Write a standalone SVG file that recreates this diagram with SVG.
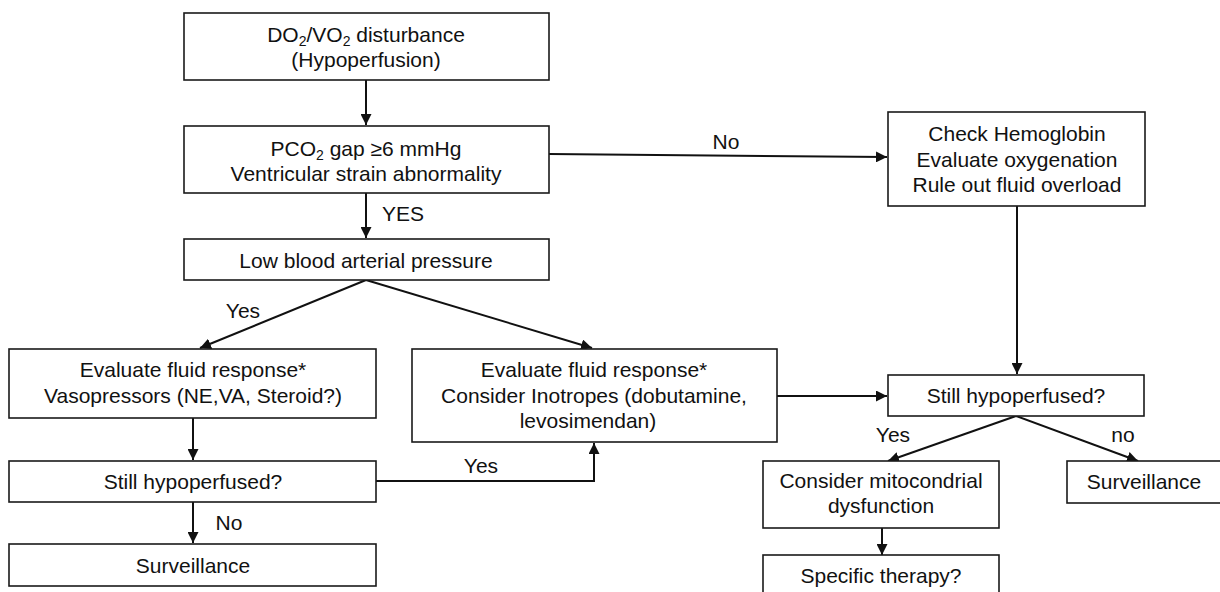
<svg xmlns="http://www.w3.org/2000/svg" width="1220" height="592" viewBox="0 0 1220 592">
<style>
.box{fill:#fff;stroke:#1a1a1a;stroke-width:1.6}
.t{font-family:"Liberation Sans",Arial,sans-serif;font-size:21px;fill:#111;text-anchor:middle}
.l{font-family:"Liberation Sans",Arial,sans-serif;font-size:21px;fill:#111}
.c{fill:none;stroke:#111;stroke-width:2}
</style>
<defs>
<marker id="ah" markerUnits="userSpaceOnUse" markerWidth="12" markerHeight="11" refX="11" refY="5.5" orient="auto">
<path d="M0,0 L11,5.5 L0,11 z" fill="#111"/>
</marker>
</defs>
<rect width="1220" height="592" fill="#fff"/>
<g id="connectors">
<line class="c" x1="366" y1="80" x2="366" y2="125" marker-end="url(#ah)"/>
<line class="c" x1="366" y1="193" x2="366" y2="238" marker-end="url(#ah)"/>
<line class="c" x1="549" y1="154" x2="887" y2="157" marker-end="url(#ah)"/>
<line class="c" x1="366" y1="280" x2="200" y2="348" marker-end="url(#ah)"/>
<line class="c" x1="366" y1="280" x2="592" y2="348" marker-end="url(#ah)"/>
<line class="c" x1="193" y1="418" x2="193" y2="460" marker-end="url(#ah)"/>
<line class="c" x1="193" y1="502" x2="193" y2="543" marker-end="url(#ah)"/>
<polyline class="c" points="376,481 594,481 594,443" marker-end="url(#ah)"/>
<line class="c" x1="777" y1="396" x2="887" y2="396" marker-end="url(#ah)"/>
<line class="c" x1="1017" y1="206" x2="1017" y2="374" marker-end="url(#ah)"/>
<line class="c" x1="1016" y1="416" x2="888" y2="461" marker-end="url(#ah)"/>
<line class="c" x1="1016" y1="416" x2="1138" y2="461" marker-end="url(#ah)"/>
<line class="c" x1="882" y1="528" x2="882" y2="555" marker-end="url(#ah)"/>
<text class="l" x="382" y="221">YES</text>
<text class="t" x="726" y="149">No</text>
<text class="t" x="243" y="318">Yes</text>
<text class="t" x="481" y="473">Yes</text>
<text class="t" x="229" y="530">No</text>
<text class="t" x="893" y="442">Yes</text>
<text class="t" x="1123" y="442">no</text>
</g>
<g id="n1">
<rect class="box" x="184" y="13" width="365" height="67"/>
<text class="t" x="366" y="42">DO<tspan font-size="14" dy="4">2</tspan><tspan dy="-4">/VO</tspan><tspan font-size="14" dy="4">2</tspan><tspan dy="-4"> disturbance</tspan></text>
<text class="t" x="366" y="67">(Hypoperfusion)</text>
</g>
<g id="n2">
<rect class="box" x="184" y="126" width="365" height="67"/>
<text class="t" x="366" y="156">PCO<tspan font-size="14" dy="4">2</tspan><tspan dy="-4"> gap ≥6 mmHg</tspan></text>
<text class="t" x="366" y="181">Ventricular strain abnormality</text>
</g>
<g id="n3">
<rect class="box" x="184" y="239" width="365" height="41"/>
<text class="t" x="366" y="268">Low blood arterial pressure</text>
</g>
<g id="n4">
<rect class="box" x="9" y="349" width="367" height="69"/>
<text class="t" x="193" y="377">Evaluate fluid response*</text>
<text class="t" x="193" y="403">Vasopressors (NE,VA, Steroid?)</text>
</g>
<g id="n5">
<rect class="box" x="9" y="461" width="367" height="41"/>
<text class="t" x="193" y="489">Still hypoperfused?</text>
</g>
<g id="n6">
<rect class="box" x="9" y="544" width="367" height="42"/>
<text class="t" x="193" y="573">Surveillance</text>
</g>
<g id="n7">
<rect class="box" x="412" y="349" width="365" height="93"/>
<text class="t" x="594" y="377">Evaluate fluid response*</text>
<text class="t" x="594" y="403">Consider Inotropes (dobutamine,</text>
<text class="t" x="588" y="428">levosimendan)</text>
</g>
<g id="n8">
<rect class="box" x="888" y="112" width="257" height="94"/>
<text class="t" x="1017" y="141">Check Hemoglobin</text>
<text class="t" x="1017" y="167">Evaluate oxygenation</text>
<text class="t" x="1017" y="192">Rule out fluid overload</text>
</g>
<g id="n9">
<rect class="box" x="888" y="375" width="256" height="41"/>
<text class="t" x="1016" y="403">Still hypoperfused?</text>
</g>
<g id="n10">
<rect class="box" x="763" y="461" width="236" height="67"/>
<text class="t" x="881" y="488">Consider mitocondrial</text>
<text class="t" x="881" y="513">dysfunction</text>
</g>
<g id="n11">
<rect class="box" x="1067" y="461" width="170" height="42"/>
<text class="t" x="1144" y="489">Surveillance</text>
</g>
<g id="n12">
<rect class="box" x="763" y="555" width="236" height="50"/>
<text class="t" x="881" y="583">Specific therapy?</text>
</g>
</svg>
